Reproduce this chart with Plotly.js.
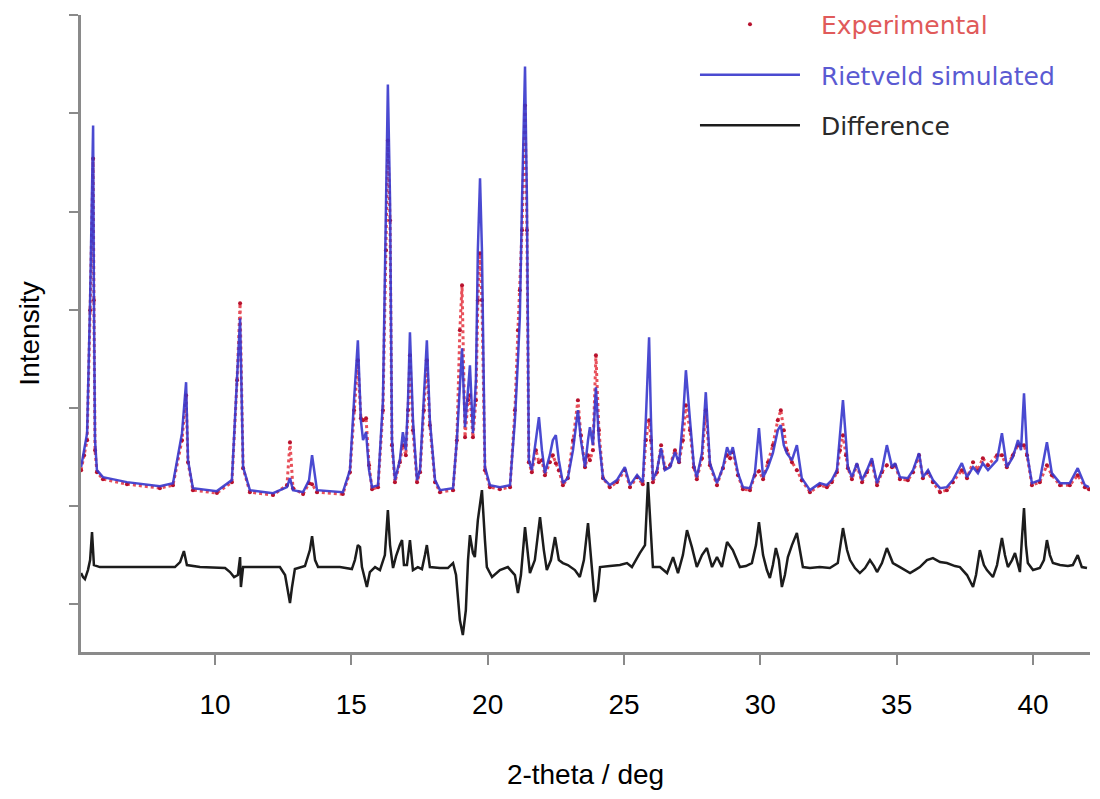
<!DOCTYPE html>
<html>
<head>
<meta charset="utf-8">
<script src="https://cdn.plot.ly/plotly-3.0.1.min.js"></script>
<style>html,body{margin:0;padding:0;background:#fff;}#chart{width:1100px;height:799px;}</style>
</head>
<body>
<div id="chart"></div>
<script>
// 2-theta positions (deg) shared by the experimental and simulated patterns
const twoTheta = [5.09,5.20,5.31,5.42,5.53,5.56,5.60,5.67,5.89,6.77,7.98,8.46,8.79,8.94,9.01,9.19,10.07,10.62,10.81,10.92,11.03,11.28,12.13,12.64,12.75,12.86,13.23,13.45,13.56,13.74,14.69,14.95,15.10,15.24,15.35,15.43,15.54,15.65,15.76,15.98,16.16,16.27,16.34,16.42,16.49,16.60,16.78,16.89,17.00,17.08,17.15,17.26,17.41,17.52,17.66,17.77,17.88,18.07,18.25,18.73,18.87,18.98,19.06,19.17,19.28,19.35,19.46,19.57,19.64,19.72,19.79,19.90,20.08,20.45,20.82,21.00,21.11,21.18,21.26,21.37,21.44,21.51,21.62,21.77,21.88,21.99,22.10,22.28,22.39,22.50,22.61,22.76,22.94,23.13,23.31,23.42,23.57,23.68,23.75,23.86,23.97,24.08,24.23,24.48,24.74,25.03,25.22,25.48,25.69,25.80,25.92,25.99,26.06,26.21,26.36,26.50,26.69,26.87,27.02,27.16,27.27,27.42,27.56,27.67,27.86,28.00,28.15,28.41,28.63,28.78,28.89,28.99,29.18,29.36,29.62,29.80,29.95,30.10,30.28,30.46,30.64,30.75,30.86,30.97,31.16,31.34,31.52,31.82,32.18,32.44,32.62,32.81,32.92,33.03,33.14,33.21,33.36,33.54,33.73,33.91,34.09,34.28,34.46,34.64,34.83,34.94,35.12,35.41,35.60,35.82,35.96,36.15,36.33,36.59,36.84,37.06,37.39,37.58,37.80,37.98,38.16,38.35,38.68,38.86,39.04,39.26,39.45,39.56,39.67,39.78,39.96,40.25,40.51,40.69,40.99,41.35,41.64,41.90,42.05];

// Rietveld simulated intensity (a.u.)
const simulated = [1370,1540,1710,3040,4790,3040,1640,1340,1270,1220,1180,1210,1710,2220,1440,1160,1130,1240,2210,2860,1370,1140,1110,1170,1260,1140,1120,1240,1490,1140,1120,1340,2040,2640,1840,1640,1720,1340,1170,1190,2040,4040,5200,4040,1640,1240,1440,1720,1540,2040,2720,1840,1240,1340,2040,2640,1840,1240,1140,1160,1640,2240,2560,1770,2140,2390,1710,2240,3540,4260,3540,1370,1190,1170,1190,1840,2440,2870,4040,5380,4040,1440,1340,1640,1870,1540,1310,1490,1640,1690,1440,1210,1260,1540,1940,1640,1370,1640,1770,1590,2170,1640,1260,1190,1240,1370,1190,1290,1220,1840,2670,1840,1240,1340,1560,1340,1370,1520,1410,1840,2340,1840,1390,1270,1510,2120,1410,1210,1370,1570,1490,1570,1310,1170,1160,1310,1760,1270,1370,1510,1740,1790,1590,1510,1440,1590,1260,1140,1210,1190,1240,1340,1740,2040,1640,1370,1270,1410,1240,1340,1460,1210,1340,1590,1370,1410,1270,1260,1340,1510,1270,1340,1240,1160,1170,1240,1410,1270,1370,1310,1410,1340,1440,1710,1370,1470,1640,1540,2110,1510,1210,1240,1620,1310,1210,1210,1360,1190,1170];

// Experimental intensity (a.u.)
const experimental = [1340,1490,1640,2940,4460,3040,1540,1320,1250,1200,1160,1190,1640,2090,1420,1140,1110,1220,2240,3010,1360,1120,1090,1190,1620,1160,1100,1210,1200,1120,1100,1320,1940,2440,1860,1840,1860,1390,1150,1170,1940,3540,4640,3840,1590,1220,1420,1590,1490,1940,2490,1740,1220,1320,1940,2440,1790,1220,1120,1140,1640,2740,3190,1670,2040,2090,1670,2040,3040,3510,3040,1340,1170,1150,1170,1940,2740,3140,3740,4990,3740,1420,1320,1540,1420,1440,1290,1420,1490,1410,1340,1190,1260,1640,2040,1690,1370,1490,1440,1540,2490,1740,1260,1170,1220,1340,1170,1270,1200,1640,1840,1640,1220,1320,1590,1360,1390,1540,1420,1640,1990,1740,1370,1250,1460,1940,1390,1190,1360,1490,1460,1520,1290,1150,1140,1290,1330,1250,1420,1590,1840,1940,1740,1540,1420,1340,1240,1120,1190,1170,1220,1320,1540,1690,1490,1360,1250,1390,1220,1320,1420,1190,1320,1390,1370,1390,1250,1240,1320,1490,1260,1320,1220,1120,1140,1220,1340,1260,1420,1340,1460,1390,1490,1490,1370,1490,1590,1590,1590,1490,1190,1220,1390,1290,1190,1190,1290,1170,1150];

// Difference curve (offset, a.u.)
const diffTheta = [5.09,5.16,5.23,5.34,5.42,5.49,5.56,5.78,7.62,8.53,8.72,8.86,8.97,9.45,10.37,10.55,10.70,10.84,10.92,10.95,11.03,11.65,12.38,12.57,12.68,12.75,12.82,12.93,13.30,13.48,13.56,13.67,13.78,14.58,15.02,15.13,15.24,15.32,15.39,15.50,15.57,15.68,15.87,16.05,16.23,16.34,16.42,16.53,16.64,16.78,16.86,16.93,17.04,17.15,17.26,17.44,17.59,17.70,17.77,17.88,18.25,18.54,18.73,18.84,18.91,18.98,19.09,19.20,19.28,19.35,19.46,19.53,19.64,19.79,19.90,19.97,20.16,20.45,20.74,21.00,21.11,21.22,21.37,21.48,21.55,21.73,21.92,22.06,22.17,22.32,22.47,22.61,22.76,22.94,23.20,23.38,23.53,23.68,23.82,23.93,24.04,24.12,24.48,24.85,25.11,25.29,25.58,25.77,25.88,25.99,26.06,26.32,26.58,26.80,26.98,27.16,27.31,27.49,27.67,27.86,28.04,28.23,28.41,28.59,28.78,28.99,29.25,29.47,29.69,29.84,29.95,30.10,30.24,30.35,30.46,30.57,30.68,30.79,30.90,31.01,31.16,31.34,31.45,31.56,31.82,32.18,32.55,32.84,33.03,33.18,33.29,33.47,33.65,33.84,34.02,34.17,34.28,34.46,34.64,34.75,34.86,35.12,35.49,35.67,35.85,36.11,36.33,36.59,36.84,37.14,37.32,37.58,37.72,37.80,37.91,38.05,38.20,38.31,38.53,38.68,38.86,38.97,39.08,39.23,39.34,39.45,39.52,39.59,39.67,39.74,39.81,40.00,40.25,40.40,40.51,40.62,40.73,40.99,41.28,41.46,41.64,41.79,41.98];
const difference = [310,270,250,340,440,720,390,370,370,370,420,530,390,370,360,320,270,290,470,170,370,370,370,290,140,10,160,350,380,540,680,440,370,370,350,440,590,570,370,240,170,320,370,340,490,940,590,360,480,590,640,390,390,640,340,370,350,490,590,370,360,360,410,290,90,-160,-310,-60,440,690,510,470,840,1140,640,370,270,340,370,290,110,290,770,490,310,440,870,540,340,440,670,440,410,390,340,270,440,810,340,20,140,370,380,390,410,370,510,590,1220,640,370,370,310,470,310,490,740,570,370,490,560,370,470,370,620,540,370,380,410,590,820,490,340,260,390,560,440,170,290,470,590,710,540,370,360,370,360,410,760,540,440,360,310,360,440,380,320,410,560,490,410,370,310,340,370,440,460,420,410,380,370,290,220,170,290,540,390,340,270,390,660,490,370,440,510,390,320,640,960,590,410,340,360,440,640,490,410,390,380,390,490,370,360];

// Axis ticks
const xTickVals = [10, 15, 20, 25, 30, 35, 40];
const xTickText = ['10', '15', '20', '25', '30', '35', '40'];

const seriesNames = ['Experimental', 'Rietveld simulated', 'Difference'];
const pad = '&nbsp;&nbsp;';

const traces = [
  { // experimental profile drawn as dotted line
    x: twoTheta, y: experimental, type: 'scatter', mode: 'lines',
    line: { color: '#e8505a', width: 3, dash: 'dot' },
    legendgroup: 'exp', showlegend: false, hoverinfo: 'skip'
  },
  { // experimental points
    x: twoTheta, y: experimental, type: 'scatter', mode: 'markers',
    marker: { color: '#b8122e', size: 4 },
    name: pad + '<span style="color:#e05a5a">' + seriesNames[0] + '</span>',
    legendgroup: 'exp'
  },
  {
    x: twoTheta, y: simulated, type: 'scatter', mode: 'lines',
    line: { color: '#3636cc', width: 2.5 }, opacity: 0.9,
    name: pad + '<span style="color:#5a5ad2">' + seriesNames[1] + '</span>',
    legendgroup: 'sim'
  },
  {
    x: diffTheta, y: difference, type: 'scatter', mode: 'lines',
    line: { color: '#1c1c1c', width: 2.5 },
    name: pad + '<span style="color:#2a2a2a">' + seriesNames[2] + '</span>',
    legendgroup: 'diff'
  }
];

const layout = {
  width: 1100, height: 799,
  paper_bgcolor: '#ffffff', plot_bgcolor: '#ffffff',
  margin: { l: 81, r: 10, t: 15, b: 147, autoexpand: false },
  showlegend: true,
  legend: {
    x: 0.6085, y: 1.021, xanchor: 'left', yanchor: 'top',
    bgcolor: 'rgba(0,0,0,0)', borderwidth: 0,
    font: { family: 'DejaVu Sans, Verdana, sans-serif', size: 25, color: '#333' },
    itemwidth: 100, tracegroupgap: 15, traceorder: 'grouped'
  },
  xaxis: {
    range: [5.086, 42.09],
    tickvals: xTickVals, ticktext: xTickText,
    showgrid: false, zeroline: false,
    showline: true, linecolor: '#8a8a8a', linewidth: 3,
    ticks: 'outside', ticklen: 10, tickwidth: 2, tickcolor: '#8a8a8a',
    ticklabelstandoff: 15,
    tickfont: { family: 'Liberation Sans, Arial, sans-serif', size: 28, color: '#000' },
    title: { text: '2-theta / deg', font: { family: 'Liberation Sans, Arial, sans-serif', size: 28, color: '#000' }, standoff: 46 }
  },
  yaxis: {
    range: [-480, 5895],
    tick0: 0, dtick: 982,
    showticklabels: false,
    showgrid: false, zeroline: false,
    showline: true, linecolor: '#8a8a8a', linewidth: 3,
    ticks: 'outside', ticklen: 9, tickwidth: 2, tickcolor: '#8a8a8a',
    title: { text: 'Intensity', font: { family: 'Liberation Sans, Arial, sans-serif', size: 28, color: '#000' }, standoff: 22 }
  }
};

Plotly.newPlot('chart', traces, layout, { displayModeBar: false, staticPlot: true });
</script>
</body>
</html>
